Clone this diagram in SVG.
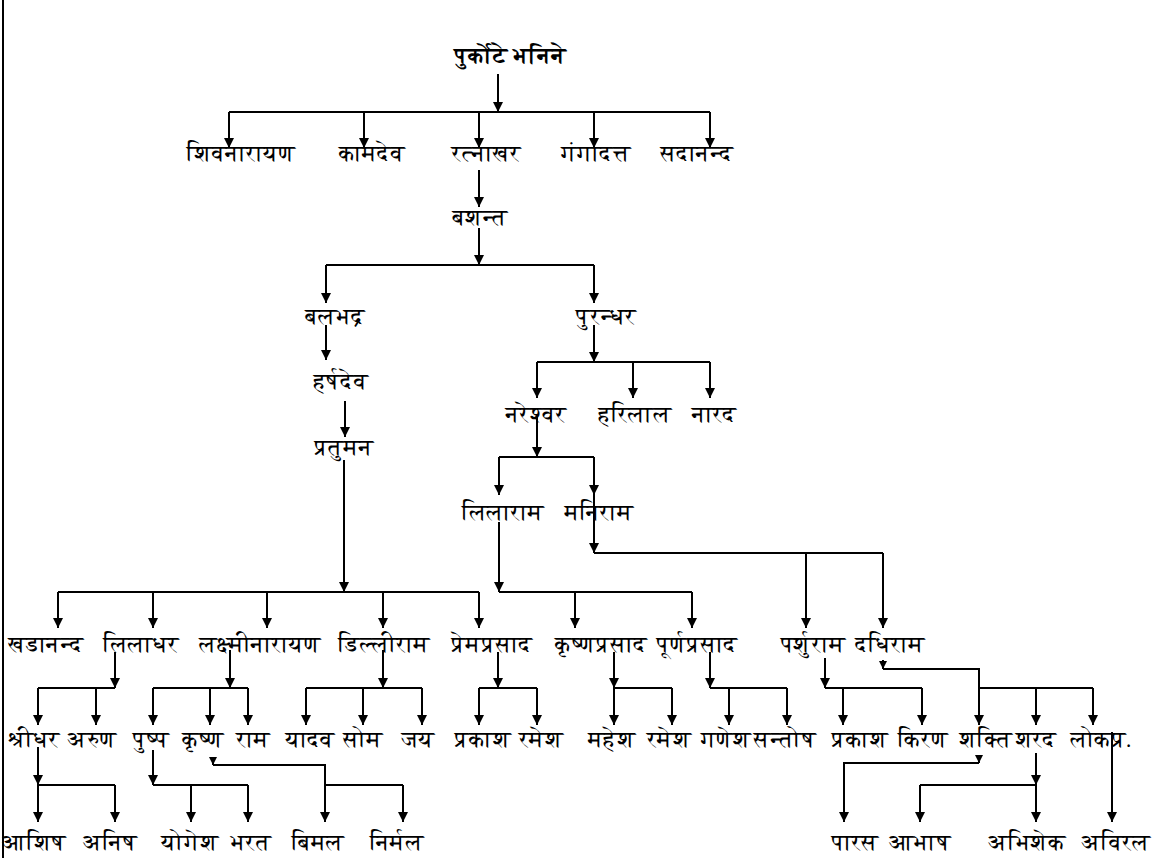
<svg xmlns="http://www.w3.org/2000/svg" width="1161" height="858" viewBox="0 0 1161 858">
<style>
.t{font-family:"FreeSerif","Noto Serif Devanagari","Noto Sans Devanagari","Noto Sans","Liberation Serif",serif;font-size:23px;fill:#000;text-anchor:middle}
.b{font-weight:bold}
.c{fill:none;stroke:#000;stroke-width:2}
.a{marker-end:url(#ah)}
</style>
<defs>
<marker id="ah" viewBox="0 0 10 10" refX="10" refY="5" markerWidth="10" markerHeight="10" markerUnits="userSpaceOnUse" orient="auto"><path d="M0,0 L10,5 L0,10 z" fill="#000"/></marker>
<marker id="as" viewBox="0 0 10 10" refX="10" refY="5" markerWidth="8" markerHeight="8" markerUnits="userSpaceOnUse" orient="auto"><path d="M0,0 L10,5 L0,10 z" fill="#000"/></marker>
</defs>
<rect width="1161" height="858" fill="#fff"/>
<path class="c" d="M3,0 V858"/>
<g id="connectors">
<path class="c a" d="M498,74 V112"/>
<path class="c" d="M229,112 H710"/>
<path class="c a" d="M229,112 V148"/><path class="c a" d="M364,112 V148"/><path class="c a" d="M479,112 V148"/><path class="c a" d="M594,112 V148"/><path class="c a" d="M710,112 V148"/>
<path class="c a" d="M479,170 V207"/>
<path class="c a" d="M479,228 V265"/>
<path class="c" d="M326,265 H594"/>
<path class="c a" d="M326,265 V303"/><path class="c a" d="M594,265 V303"/>
<path class="c a" d="M326,325 V360"/>
<path class="c a" d="M345,401 V437"/>
<path class="c a" d="M344,460 V592"/>
<path class="c" d="M58,592 H479"/>
<path class="c a" d="M58,592 V628"/><path class="c a" d="M153,592 V628"/><path class="c a" d="M267,592 V628"/><path class="c a" d="M383,592 V628"/><path class="c a" d="M479,592 V628"/>
<path class="c a" d="M594,325 V362"/>
<path class="c" d="M537,362 H710"/>
<path class="c a" d="M537,362 V398"/><path class="c a" d="M633,362 V398"/><path class="c a" d="M710,362 V398"/>
<path class="c a" d="M537,417 V457"/>
<path class="c" d="M499,457 H594"/>
<path class="c a" d="M499,457 V495"/><path class="c a" d="M594,457 V495"/>
<path class="c a" d="M594,495 V553"/>
<path class="c" d="M594,553 H883"/>
<path class="c a" d="M806,553 V628"/><path class="c a" d="M883,553 V628"/>
<path class="c a" d="M499,522 V592"/>
<path class="c" d="M499,592 H692"/>
<path class="c a" d="M575,592 V628"/><path class="c a" d="M692,592 V628"/>
<path class="c a" d="M115,652 V688"/>
<path class="c" d="M38,688 H115"/>
<path class="c a" d="M38,688 V725"/><path class="c a" d="M96,688 V725"/>
<path class="c a" d="M230,650 V688"/>
<path class="c" d="M153,688 H248"/>
<path class="c a" d="M153,688 V725"/><path class="c a" d="M210,688 V725"/><path class="c a" d="M248,688 V725"/>
<path class="c a" d="M383,650 V688"/>
<path class="c" d="M306,688 H422"/>
<path class="c a" d="M306,688 V725"/><path class="c a" d="M363,688 V725"/><path class="c a" d="M422,688 V725"/>
<path class="c a" d="M498,652 V688"/>
<path class="c" d="M479,688 H537"/>
<path class="c a" d="M479,688 V725"/><path class="c a" d="M537,688 V725"/>
<path class="c a" d="M614,652 V688"/>
<path class="c" d="M614,688 H672"/>
<path class="c a" d="M614,688 V725"/><path class="c a" d="M672,688 V725"/>
<path class="c a" d="M710,652 V688"/>
<path class="c" d="M710,688 H787"/>
<path class="c a" d="M729,688 V725"/><path class="c a" d="M787,688 V725"/>
<path class="c a" d="M825,658 V688"/>
<path class="c" d="M825,688 H922"/>
<path class="c a" d="M843,688 V725"/><path class="c a" d="M922,688 V725"/>
<path class="c a" d="M883,669 H979 V725"/>
<path class="c" d="M883,660 V669" marker-end="url(#as)"/>
<path class="c" d="M979,688 H1093"/>
<path class="c a" d="M1036,688 V725"/><path class="c a" d="M1093,688 V725"/>
<path class="c a" d="M38,747 V785"/>
<path class="c" d="M38,785 H115"/>
<path class="c a" d="M38,785 V822"/><path class="c a" d="M115,785 V822"/>
<path class="c a" d="M153,750 V785"/>
<path class="c" d="M153,785 H248"/>
<path class="c a" d="M191,785 V822"/><path class="c a" d="M248,785 V822"/>
<path class="c a" d="M213,765 H325 V822"/>
<path class="c" d="M213,757 V765" marker-end="url(#as)"/>
<path class="c" d="M325,785 H403"/>
<path class="c a" d="M403,785 V822"/>
<path class="c a" d="M979,763 H844 V822"/>
<path class="c" d="M979,755 V763" marker-end="url(#as)"/>
<path class="c a" d="M1036,753 V785"/>
<path class="c" d="M920,785 H1036"/>
<path class="c a" d="M920,785 V822"/><path class="c a" d="M1036,785 V822"/>
<path class="c a" d="M1112,732 V822"/>
</g>
<g id="n-title"><text class="t b" x="510" y="63">पुर्कोटे भनिने</text></g>
<g id="n-shivanarayan"><text class="t" x="241" y="161">शिवनारायण</text></g>
<g id="n-kamdev"><text class="t" x="372" y="161">कामदेव</text></g>
<g id="n-ratnakhar"><text class="t" x="486" y="161">रत्नाखर</text></g>
<g id="n-gangadatta"><text class="t" x="596" y="161">गंगादत्त</text></g>
<g id="n-sadananda"><text class="t" x="697" y="161">सदानन्द</text></g>
<g id="n-bashanta"><text class="t" x="480" y="225">बशन्त</text></g>
<g id="n-balabhadra"><text class="t" x="335" y="324">बलभद्र</text></g>
<g id="n-purandhar"><text class="t" x="606" y="324">पुरन्धर</text></g>
<g id="n-harshadev"><text class="t" x="341" y="389">हर्षदेव</text></g>
<g id="n-pratuman"><text class="t" x="344" y="455">प्रतुमन</text></g>
<g id="n-nareshwar"><text class="t" x="536" y="422">नरेश्वर</text></g>
<g id="n-harilal"><text class="t" x="635" y="422">हरिलाल</text></g>
<g id="n-narad"><text class="t" x="714" y="422">नारद</text></g>
<g id="n-lilaram"><text class="t" x="503" y="520">लिलाराम</text></g>
<g id="n-maniram"><text class="t" x="599" y="520">मनिराम</text></g>
<g id="n-khadananda"><text class="t" x="46" y="652">खडानन्द</text></g>
<g id="n-liladhar"><text class="t" x="141" y="652">लिलाधर</text></g>
<g id="n-laxminarayan"><text class="t" x="260" y="652">लक्ष्मीनारायण</text></g>
<g id="n-dilliram"><text class="t" x="384" y="652">डिल्लीराम</text></g>
<g id="n-premprasad"><text class="t" x="492" y="652">प्रेमप्रसाद</text></g>
<g id="n-krishnaprasad"><text class="t" x="601" y="652">कृष्णप्रसाद</text></g>
<g id="n-purnaprasad"><text class="t" x="697" y="652">पूर्णप्रसाद</text></g>
<g id="n-parshuram"><text class="t" x="813" y="652">पर्शुराम</text></g>
<g id="n-dadhiram"><text class="t" x="890" y="652">दधिराम</text></g>
<g id="n-shridhar"><text class="t" x="34" y="747">श्रीधर</text></g>
<g id="n-arun"><text class="t" x="92" y="747">अरुण</text></g>
<g id="n-pushpa"><text class="t" x="151" y="747">पुष्प</text></g>
<g id="n-krishna"><text class="t" x="203" y="747">कृष्ण</text></g>
<g id="n-ram"><text class="t" x="253" y="747">राम</text></g>
<g id="n-yadav"><text class="t" x="310" y="747">यादव</text></g>
<g id="n-som"><text class="t" x="363" y="747">सोम</text></g>
<g id="n-jay"><text class="t" x="418" y="747">जय</text></g>
<g id="n-prakash1"><text class="t" x="483" y="747">प्रकाश</text></g>
<g id="n-ramesh1"><text class="t" x="541" y="747">रमेश</text></g>
<g id="n-mahesh"><text class="t" x="612" y="747">महेश</text></g>
<g id="n-ramesh2"><text class="t" x="669" y="747">रमेश</text></g>
<g id="n-ganesh"><text class="t" x="726" y="747">गणेश</text></g>
<g id="n-santosh"><text class="t" x="785" y="747">सन्तोष</text></g>
<g id="n-prakash2"><text class="t" x="860" y="747">प्रकाश</text></g>
<g id="n-kiran"><text class="t" x="923" y="747">किरण</text></g>
<g id="n-shakti"><text class="t" x="986" y="747">शक्ति</text></g>
<g id="n-sharad"><text class="t" x="1036" y="747">शरद</text></g>
<g id="n-lokapra"><text class="t" x="1101" y="747">लोकप्र.</text></g>
<g id="n-ashish"><text class="t" x="34" y="850">आशिष</text></g>
<g id="n-anish"><text class="t" x="110" y="850">अनिष</text></g>
<g id="n-yogesh"><text class="t" x="190" y="850">योगेश</text></g>
<g id="n-bharat"><text class="t" x="251" y="850">भरत</text></g>
<g id="n-bimal"><text class="t" x="318" y="850">बिमल</text></g>
<g id="n-nirmal"><text class="t" x="397" y="850">निर्मल</text></g>
<g id="n-paras"><text class="t" x="855" y="850">पारस</text></g>
<g id="n-abhash"><text class="t" x="920" y="850">आभाष</text></g>
<g id="n-abhishek"><text class="t" x="1027" y="850">अभिशेक</text></g>
<g id="n-aviral"><text class="t" x="1116" y="850">अविरल</text></g>
</svg>
